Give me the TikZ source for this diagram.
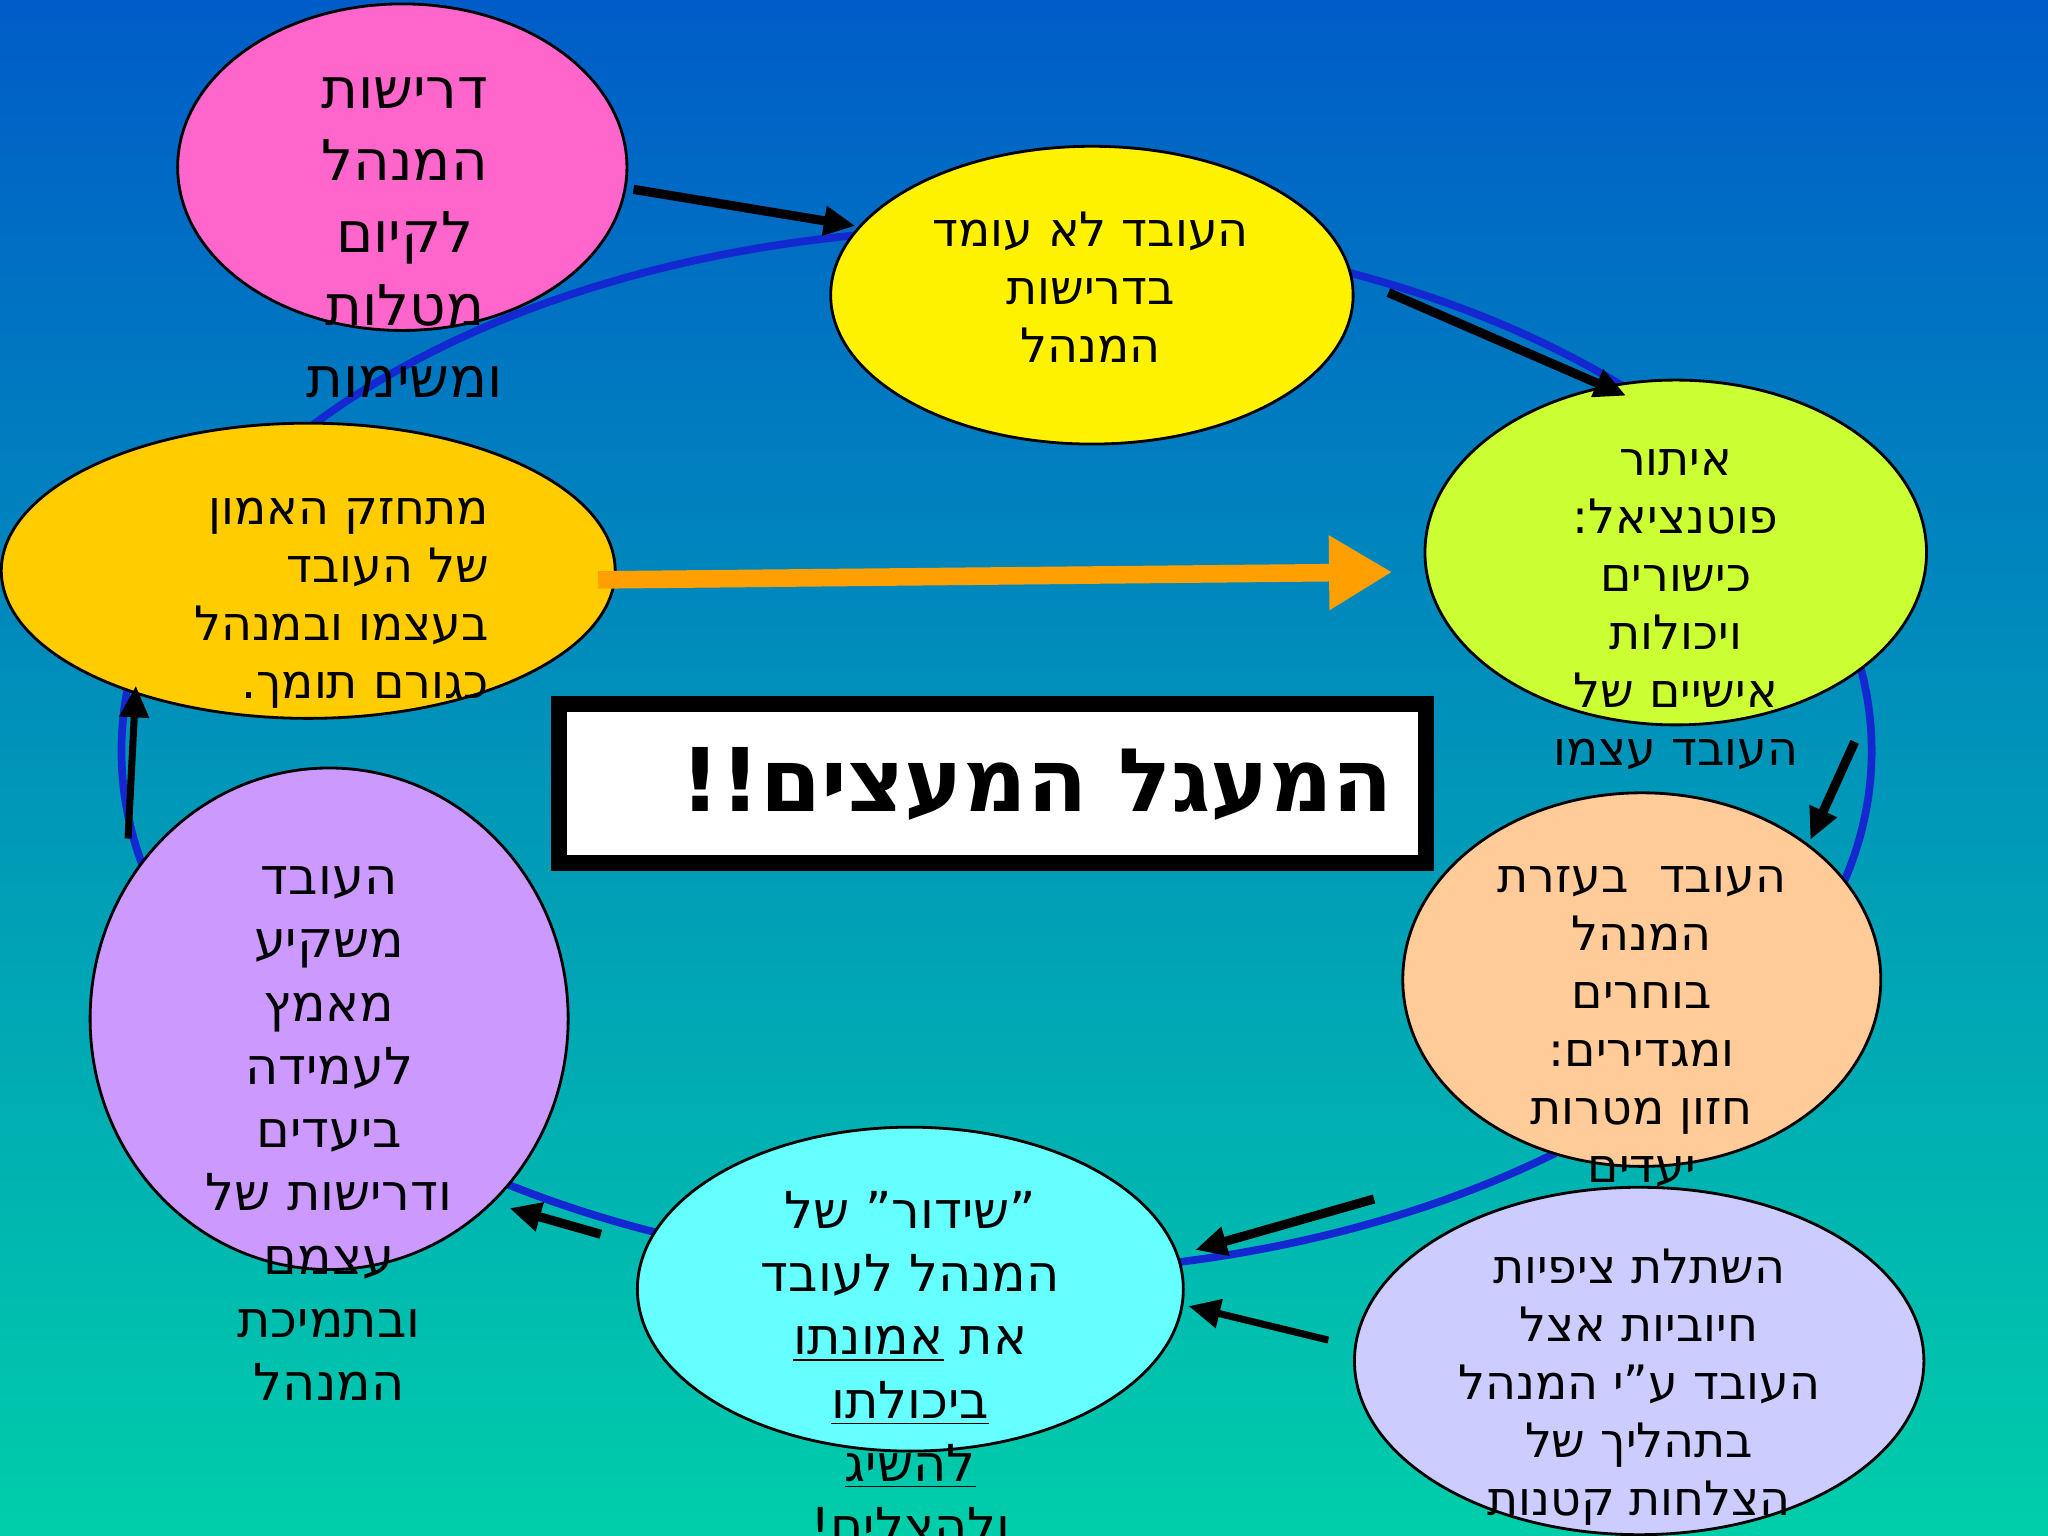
\documentclass[tikz,border=0pt]{standalone}
\usepackage{fontspec}
\setmainfont{DejaVu Sans}
\TeXXeTstate=1
\usetikzlibrary{arrows.meta}
\definecolor{bgtop}{RGB}{0,92,200}
\definecolor{bgbot}{RGB}{0,206,170}
\definecolor{ringc}{RGB}{20,40,210}
\definecolor{cpink}{RGB}{255,102,204}
\definecolor{clime}{RGB}{204,255,51}
\definecolor{cpeach}{RGB}{255,204,153}
\definecolor{clav}{RGB}{204,204,255}
\definecolor{ccyan}{RGB}{102,255,255}
\definecolor{cpurp}{RGB}{204,153,255}
\definecolor{corng}{RGB}{255,204,0}
\definecolor{carr}{RGB}{255,160,0}
\newcommand{\RL}[1]{\beginR #1\endR}
\begin{document}
\begin{tikzpicture}[x=0.01306cm,y=-0.01306cm,
  bub/.style={draw=black,line width=0.8pt},
  txt/.style={align=center,font=\fontsize{13.5}{16.5}\selectfont,text=black},
  arr/.style={-{Triangle[length=9pt,width=8pt]},line width=2.6pt,black}]
\useasboundingbox (0,0) rectangle (1568,1176);
\shade[top color=bgtop,bottom color=bgbot] (0,0) rectangle (1568,1176);
\draw[line width=2.2pt,ringc] (763,575) ellipse [x radius=670,y radius=400];
\path[bub,fill=cpink] (308,128) ellipse [x radius=172,y radius=125];
\path[bub,fill=yellow] (836,226) ellipse [x radius=200,y radius=114];
\path[bub,fill=clime] (1283,423) ellipse [x radius=192,y radius=132];
\path[bub,fill=cpeach] (1257,750) ellipse [x radius=183,y radius=143];
\path[bub,fill=clav] (1255,1042) ellipse [x radius=218,y radius=133];
\path[bub,fill=ccyan] (697,987) ellipse [x radius=209,y radius=124];
\path[bub,fill=cpurp] (252,780) ellipse [x radius=183,y radius=192];
\path[bub,fill=corng] (236,437) ellipse [x radius=235,y radius=113];
\node[txt,font=\fontsize{16}{20.5}\selectfont] (t1) at (310,182) {\RL{דרישות}\\\RL{המנהל}\\\RL{לקיום}\\\RL{מטלות}\\\RL{ומשימות}};
\node[txt] (t2) at (835,220) {\RL{העובד לא עומד}\\\RL{בדרישות}\\\RL{המנהל}};
\node[txt] (t3) at (1283,467) {\RL{איתור}\\\RL{פוטנציאל:}\\\RL{כישורים}\\\RL{ויכולות}\\\RL{אישיים של}\\\RL{העובד עצמו}};
\node[txt] (t4) at (1257,786) {\RL{העובד\ \ בעזרת}\\\RL{המנהל}\\\RL{בוחרים}\\\RL{ומגדירים:}\\\RL{חזון מטרות}\\\RL{יעדים}};
\node[txt] (t5) at (1255,1062) {\RL{השתלת ציפיות}\\\RL{חיוביות אצל}\\\RL{העובד ע"י המנהל}\\\RL{בתהליך של}\\\RL{הצלחות קטנות}};
\node[txt,font=\fontsize{14.5}{18}\selectfont] (t6) at (697,1050) {\RL{"שידור" של}\\\RL{המנהל לעובד}\\\RL{את \underline{אמונתו}}\\\RL{\underline{ביכולתו}}\\\RL{\underline{להשיג}}\\\RL{\underline{ולהצליח!}}};
\node[txt,font=\fontsize{14.5}{18}\selectfont] (t7) at (252,868) {\RL{העובד}\\\RL{משקיע}\\\RL{מאמץ}\\\RL{לעמידה}\\\RL{ביעדים}\\\RL{ודרישות של}\\\RL{עצמם}\\\RL{ובתמיכת}\\\RL{המנהל}};
\node[txt,align=right,anchor=east] (t8) at (384,462) {\RL{מתחזק האמון}\\\RL{של העובד}\\\RL{בעצמו ובמנהל}\\\RL{כגורם תומך.}};
\node[draw=black,line width=4.5pt,fill=white,minimum width=8.67cm,minimum height=1.59cm] (box) at (760,600) {};
\node[anchor=east,font=\fontsize{25}{30}\selectfont\bfseries] (ttl) at (1076,600) {\RL{המעגל המעצים!!}};
\coordinate (a1s) at (485,145); \coordinate (a1e) at (655,173);
\coordinate (a2s) at (1063,224); \coordinate (a2e) at (1245,303);
\coordinate (a3s) at (1420,568); \coordinate (a3e) at (1386,643);
\coordinate (a4s) at (1052,918); \coordinate (a4e) at (915,957);
\coordinate (a5s) at (1017,1026); \coordinate (a5e) at (910,1000);
\coordinate (a6s) at (460,945); \coordinate (a6e) at (390,925);
\coordinate (a7s) at (98,642); \coordinate (a7e) at (104,525);
\coordinate (aos) at (458,444); \coordinate (aoe) at (1066,438);
\draw[arr] (a1s) -- (a1e);
\draw[arr] (a2s) -- (a2e);
\draw[arr] (a3s) -- (a3e);
\draw[arr] (a4s) -- (a4e);
\draw[arr,line width=2pt] (a5s) -- (a5e);
\draw[arr] (a6s) -- (a6e);
\draw[arr,line width=2pt] (a7s) -- (a7e);
\draw[-{Triangle[length=18pt,width=20pt]},line width=5pt,carr] (aos) -- (aoe);
\end{tikzpicture}
\end{document}
